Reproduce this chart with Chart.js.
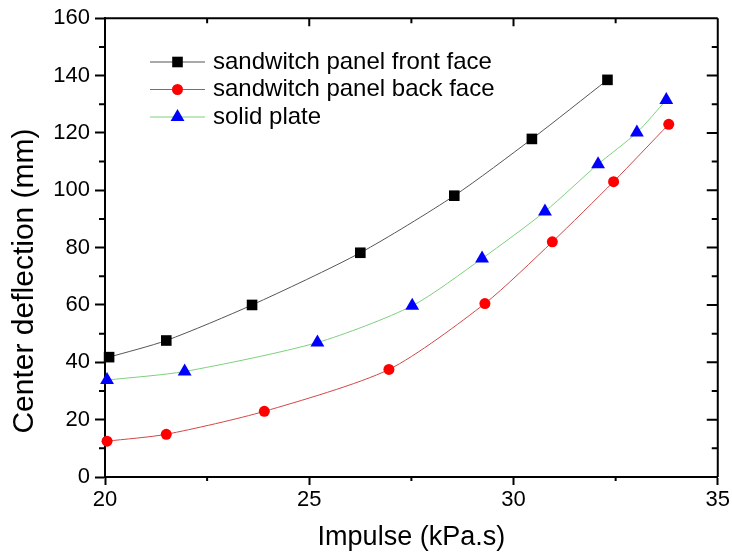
<!DOCTYPE html>
<html>
<head>
<meta charset="utf-8">
<script src="https://cdn.jsdelivr.net/npm/chart.js@4"></script>
<style>
  html, body { margin: 0; padding: 0; background: #fff; }
  #wrap { width: 732px; height: 554px; }
</style>
</head>
<body>
<div id="wrap"><canvas id="deflection"></canvas></div>
<script>
// values
var frontX = [20.1, 21.5, 23.6, 26.25, 28.55, 30.45, 32.3];
var frontY = [41.8, 47.6, 60.0, 78.2, 98.1, 117.9, 138.5];

var backX = [20.05, 21.5, 23.9, 26.95, 29.3, 30.95, 32.45, 33.8];
var backY = [12.5, 14.9, 22.9, 37.5, 60.5, 82.0, 103.0, 123.0];

var solidX = [20.05, 21.95, 25.2, 27.52, 29.23, 30.77, 32.07, 33.02, 33.74];
var solidY = [33.8, 36.8, 46.9, 59.7, 76.2, 92.6, 109.1, 120.1, 131.5];

var seriesNames = ['sandwitch panel front face', 'sandwitch panel back face', 'solid plate'];
var yTitle = 'Center deflection (mm)';
var xTitle = 'Impulse (kPa.s)';
var xMinorTicks = [22.5, 27.5, 32.5];
var yMinorTicks = [10, 30, 50, 70, 90, 110, 130, 150];

var FONT = '"Liberation Sans", Arial, sans-serif';

function pts(xs, ys) {
  var out = [];
  for (var i = 0; i < xs.length; i++) out.push({x: xs[i], y: ys[i]});
  return out;
}

// box on top/right + minor ticks + y title (sits a bit below centre in the original)
var frameBox = {
  id: 'frameBox',
  beforeDatasetsDraw: function(chart, args, opts) {
    var ctx = chart.ctx, a = chart.chartArea;
    var xs = chart.scales.x, ys = chart.scales.y;
    ctx.save();
    ctx.strokeStyle = '#000';
    ctx.lineWidth = 2;
    ctx.beginPath();
    ctx.moveTo(a.left, a.top); ctx.lineTo(a.right, a.top);
    ctx.moveTo(a.right, a.top); ctx.lineTo(a.right, a.bottom);
    // top ticks pointing in
    [20, 22.5, 25, 27.5, 30, 32.5, 35].forEach(function(v) {
      var px = xs.getPixelForValue(v);
      ctx.moveTo(px, a.top); ctx.lineTo(px, a.top + (v % 5 === 0 ? 8 : 5));
    });
    // bottom minor ticks pointing out
    xMinorTicks.forEach(function(v) {
      var px = xs.getPixelForValue(v);
      ctx.moveTo(px, a.bottom); ctx.lineTo(px, a.bottom + 4);
    });
    // left minor out, right ticks in
    yMinorTicks.forEach(function(v) {
      var py = ys.getPixelForValue(v);
      ctx.moveTo(a.left, py); ctx.lineTo(a.left - 6, py);
      ctx.moveTo(a.right, py); ctx.lineTo(a.right - 6, py);
    });
    for (var v = 20; v < 160; v += 20) {
      var py = ys.getPixelForValue(v);
      ctx.moveTo(a.right, py); ctx.lineTo(a.right - 11, py);
    }
    ctx.stroke();

    ctx.translate(opts.titleX, opts.titleY);
    ctx.rotate(-Math.PI / 2);
    ctx.font = opts.titleSize + 'px ' + FONT;
    ctx.fillStyle = '#000';
    ctx.textAlign = 'center';
    ctx.textBaseline = 'middle';
    ctx.fillText(yTitle, 0, 0);
    ctx.restore();
  }
};

// legend inside plot, line + marker
var innerLegend = {
  id: 'innerLegend',
  afterDatasetsDraw: function(chart, args, opts) {
    var ctx = chart.ctx;
    ctx.save();
    ctx.font = opts.size + 'px ' + FONT;
    ctx.textBaseline = 'middle';
    chart.data.datasets.forEach(function(ds, i) {
      var y = opts.top + i * opts.rowGap;
      ctx.strokeStyle = ds.borderColor;
      ctx.lineWidth = 1;
      ctx.beginPath();
      ctx.moveTo(opts.x0, y); ctx.lineTo(opts.x1, y);
      ctx.stroke();
      ctx.fillStyle = ds.pointBackgroundColor;
      Chart.helpers.drawPoint(ctx, {
        pointStyle: ds.pointStyle, radius: ds.pointRadius, borderWidth: 0
      }, (opts.x0 + opts.x1) / 2, y);
      ctx.fillStyle = '#000';
      ctx.fillText(ds.label, opts.textX, y);
    });
    ctx.restore();
  }
};

var ctx = document.getElementById('deflection');
new Chart(ctx, {
  type: 'line',
  data: {
    datasets: [
      {
        label: seriesNames[0], data: pts(frontX, frontY),
        borderColor: '#555555', borderWidth: 1,
        pointStyle: 'rect', pointRadius: 7.5,
        pointBackgroundColor: '#000000', pointBorderColor: '#000000', pointBorderWidth: 0
      },
      {
        label: seriesNames[1], data: pts(backX, backY),
        borderColor: '#d04848', borderWidth: 1,
        pointStyle: 'circle', pointRadius: 5.5,
        pointBackgroundColor: '#ff0000', pointBorderColor: '#ff0000', pointBorderWidth: 0
      },
      {
        label: seriesNames[2], data: pts(solidX, solidY),
        borderColor: '#7ed07e', borderWidth: 1,
        pointStyle: 'triangle', pointRadius: 8,
        pointBackgroundColor: '#0000ff', pointBorderColor: '#0000ff', pointBorderWidth: 0
      }
    ]
  },
  options: {
    responsive: true,
    maintainAspectRatio: false,
    animation: false,
    clip: false,
    layout: { padding: { top: 18, right: 12, left: 0, bottom: 0 } },
    elements: { line: { tension: 0.25 } },
    plugins: {
      legend: { display: false },
      tooltip: { enabled: false },
      innerLegend: { x0: 150, x1: 205, textX: 213, top: 62, rowGap: 27.5, size: 24 },
      frameBox: { titleX: 25, titleY: 281, titleSize: 30 }
    },
    scales: {
      x: {
        type: 'linear', min: 20, max: 35,
        afterFit: function(s) { s.height = 77; },
        ticks: { stepSize: 5, color: '#000', padding: 2, font: { family: FONT, size: 22 } },
        grid: { drawOnChartArea: false, drawTicks: true, tickLength: 8, tickWidth: 2, tickColor: '#000' },
        border: { display: true, color: '#000', width: 2 },
        title: { display: true, text: xTitle, color: '#000',
                 padding: { top: 0, bottom: 0 }, font: { family: FONT, size: 27 } }
      },
      y: {
        type: 'linear', min: 0, max: 160,
        afterFit: function(s) { s.width = 105; },
        ticks: { stepSize: 20, color: '#000', padding: 5, font: { family: FONT, size: 22 } },
        grid: { drawOnChartArea: false, drawTicks: true, tickLength: 10, tickWidth: 2, tickColor: '#000' },
        border: { display: true, color: '#000', width: 2 },
        title: { display: false }
      }
    }
  },
  plugins: [frameBox, innerLegend]
});
</script>
</body>
</html>
